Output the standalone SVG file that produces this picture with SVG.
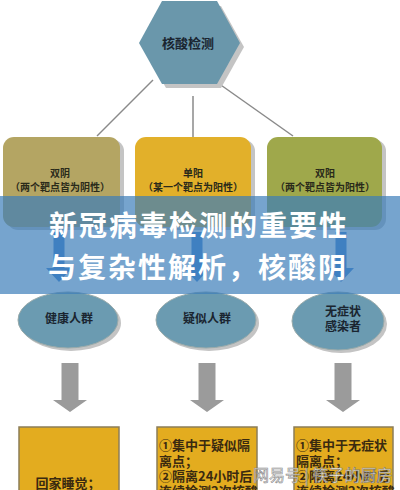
<svg xmlns="http://www.w3.org/2000/svg" width="400" height="490" viewBox="0 0 400 490">
<style>
.cn{font-family:"Noto Sans CJK SC","Noto Sans",sans-serif;}
.lbl{font-size:10px;fill:#2a2a1a;text-anchor:middle;font-weight:bold;}
.ell{fill:#6b9bb1;stroke:#9aa;stroke-width:1;}
.sh{fill:#c4c4c4;}
.btx{font-size:13px;fill:#3a2a10;font-weight:bold;}
.gar{fill:#9b9b9b;}
.bar{fill:#3a7cc0;opacity:0.9;}
.bbox{fill:#e3ac1f;stroke:#8c7d58;stroke-width:1.5;}
</style>
<rect width="400" height="490" fill="#ffffff"/>
<g id="connectors" stroke="#8a8a8a" stroke-width="1.5" fill="none">
<line x1="153" y1="80" x2="97" y2="136"/>
<line x1="193" y1="96" x2="193" y2="137"/>
<line x1="218" y1="83" x2="293" y2="136"/>
</g>
<g id="hex">
<polygon points="143,47 166,6 221,6 244,47 221,88 166,88" class="sh"/>
<polygon points="139,43 162,1 217,1 240,43 217,84 162,84" fill="#6a97ab"/>
<text x="188" y="48" class="cn" font-size="13" font-weight="bold" fill="#1a2530" text-anchor="middle">核酸检测</text>
</g>
<g id="box1">
<rect x="7" y="140" width="117" height="90" rx="11" class="sh"/>
<rect x="3" y="137" width="117" height="90" rx="11" fill="#b4a563"/>
<text x="60" y="177" class="cn lbl">双阴</text>
<text x="60" y="191" class="cn lbl">（两个靶点皆为阴性）</text>
</g>
<g id="box2">
<rect x="139" y="140" width="116" height="90" rx="11" class="sh"/>
<rect x="135" y="137" width="116" height="90" rx="11" fill="#e2b02a"/>
<text x="193" y="177" class="cn lbl">单阳</text>
<text x="193" y="191" class="cn lbl">（某一个靶点为阳性）</text>
</g>
<g id="box3">
<rect x="271" y="140" width="115" height="90" rx="11" class="sh"/>
<rect x="267" y="137" width="115" height="90" rx="11" fill="#9fa84b"/>
<text x="325" y="177" class="cn lbl">双阳</text>
<text x="325" y="191" class="cn lbl">（两个靶点皆为阳性）</text>
</g>
<g id="ell1">
<ellipse cx="71" cy="323" rx="50" ry="28" class="sh"/>
<ellipse cx="68" cy="320" rx="50" ry="28" class="ell"/>
<text x="69" y="323" class="cn" font-size="12" font-weight="bold" fill="#1a2530" text-anchor="middle">健康人群</text>
</g>
<g id="ell2">
<ellipse cx="209" cy="323" rx="50" ry="28" class="sh"/>
<ellipse cx="206" cy="320" rx="50" ry="28" class="ell"/>
<text x="207" y="323" class="cn" font-size="12" font-weight="bold" fill="#1a2530" text-anchor="middle">疑似人群</text>
</g>
<g id="ell3">
<ellipse cx="341" cy="324" rx="46" ry="29" class="sh"/>
<ellipse cx="338" cy="321" rx="46" ry="29" class="ell"/>
<text x="343" y="316" class="cn" font-size="12" font-weight="bold" fill="#1a2530" text-anchor="middle">无症状</text>
<text x="343" y="331" class="cn" font-size="12" font-weight="bold" fill="#1a2530" text-anchor="middle">感染者</text>
</g>
<g id="arrows-grey">
<polygon class="gar" points="61.5,363 78.5,363 78.5,400 87,400 70,412 53,400 61.5,400"/>
<polygon class="gar" points="198.5,363 215.5,363 215.5,400 224,400 207,412 190,400 198.5,400"/>
<polygon class="gar" points="334.5,363 351.5,363 351.5,400 360,400 343,412 326,400 334.5,400"/>
</g>
<g id="boxA">
<rect x="19" y="427" width="100" height="75" class="bbox"/>
<text x="68" y="488" class="cn btx" text-anchor="middle">回家睡觉；</text>
<text x="68" y="503" class="cn btx" text-anchor="middle">注意卫生；</text>
</g>
<g id="boxB">
<rect x="157" y="427" width="100" height="75" class="bbox"/>
<text x="159" y="450" class="cn btx">①集中于疑似隔</text>
<text x="159" y="466" class="cn btx">离点；</text>
<text x="159" y="481" class="cn btx">②隔离24小时后</text>
<text x="159" y="496" class="cn btx">连续检测2次核酸</text>
</g>
<g id="boxC">
<rect x="294" y="427" width="99" height="75" class="bbox"/>
<text x="296" y="450" class="cn btx">①集中于无症状</text>
<text x="296" y="466" class="cn btx">隔离点；</text>
<text x="296" y="481" class="cn btx">②隔离24小时后</text>
<text x="296" y="496" class="cn btx">连续检测2次核酸</text>
</g>
<g id="banner">
<rect x="0" y="196" width="400" height="98" fill="rgb(60,125,185)" opacity="0.7"/>
<g id="arrows-blue">
<polygon class="bar" points="53.5,232 64.5,232 64.5,268 72,268 59,282 46,268 53.5,268"/>
<polygon class="bar" points="191.5,232 202.5,232 202.5,268 210,268 197,282 184,268 191.5,268"/>
<polygon class="bar" points="335.5,232 346.5,232 346.5,268 354,268 341,282 328,268 335.5,268"/>
</g>
<text x="199" y="236" class="cn" font-size="28" letter-spacing="2" font-weight="bold" fill="#ffffff" text-anchor="middle">新冠病毒检测的重要性</text>
<text x="198" y="278" class="cn" font-size="28" letter-spacing="2" font-weight="bold" fill="#ffffff" text-anchor="middle">与复杂性解析，核酸阴</text>
</g>
<text x="253" y="481" class="cn" font-size="16" fill="#ffffff" stroke="#7a7a7a" stroke-width="0.6" opacity="0.9">网易号 | 筷子的厨房</text>
</svg>
